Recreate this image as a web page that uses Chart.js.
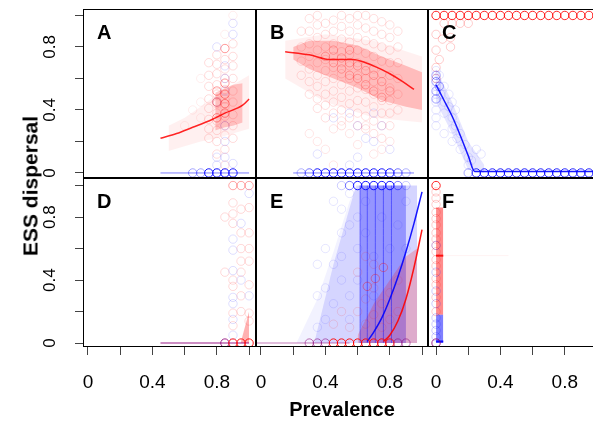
<!DOCTYPE html>
<html>
<head>
<meta charset="utf-8">
<script src="https://cdn.jsdelivr.net/npm/chart.js@4.4.1/dist/chart.umd.min.js"></script>
<style>
  body { margin: 0; background: #fff; width: 593px; height: 421px; overflow: hidden; position: relative; }
  canvas { position: absolute; }
  #ytitle { position: absolute; left: 30px; top: 186px; transform: translate(-50%, -50%) rotate(-90deg);
    font: bold 21px "Liberation Sans", Arial, sans-serif; line-height: 1; white-space: nowrap; color: #000; }
</style>
</head>
<body>
<canvas id="pA"></canvas>
<canvas id="pB"></canvas>
<canvas id="pC"></canvas>
<canvas id="pD"></canvas>
<canvas id="pE"></canvas>
<canvas id="pF"></canvas>
<div id="ytitle">ESS dispersal</div>
<script>
// axis ticks (R style: every 0.2, labels only on 0, 0.4, 0.8)
const tickVals = [0, 0.2, 0.4, 0.6, 0.8, 1];
const tickText = ['0', '', '0.4', '', '0.8', ''];

// ---- panel A ----
const aRedCols = [0.75, 0.8, 0.85, 0.9];
const aRedColY = [
  [0.22, 0.28, 0.34, 0.41, 0.47, 0.55, 0.62, 0.7],
  [0.12, 0.2, 0.27, 0.33, 0.38, 0.44, 0.5, 0.56, 0.63, 0.69, 0.75],
  [0.05, 0.15, 0.24, 0.3, 0.36, 0.42, 0.47, 0.53, 0.6, 0.66, 0.72],
  [0.22, 0.3, 0.37, 0.45, 0.52, 0.6, 0.68, 0.74, 0.82]
];
const aRedStray = [[0.7, 0.35], [0.7, 0.45], [0.65, 0.4], [0.7, 0.6], [0.6, 0.3], [0.9, 1.0], [0.85, 0.88]];
const aRedDark = [[0.85, 0.79], [0.85, 0.57], [0.85, 0.5], [0.8, 0.45], [0.85, 0.38], [0.8, 0.35], [0.85, 0.44], [0.8, 0.52]];
const aBlueFaint = [[0.9, 0.95], [0.9, 0.88], [0.8, 0.8], [0.85, 0.68], [0.85, 0.6], [0.85, 0.52], [0.85, 0.3], [0.85, 0.2], [0.8, 0.1], [0.85, 0.1], [0.8, 0.45], [0.8, 0.05], [0.9, 0.06]];
const aBlueZeroX = [0.75, 0.8, 0.85, 0.9];
const aBlueZeroFaintX = [0.65, 0.7];
const aLineX = [0.45, 0.55, 0.65, 0.75, 0.85, 0.96, 1.0];
const aLineY = [0.22, 0.25, 0.29, 0.33, 0.38, 0.43, 0.47];
const aBandX = [0.5, 0.6, 0.7, 0.8, 0.9, 1.0];
const aBandLo = [0.14, 0.17, 0.2, 0.22, 0.25, 0.28];
const aBandHi = [0.3, 0.35, 0.42, 0.5, 0.56, 0.62];
const aCoreX = [0.79, 0.85, 0.9, 0.96];
const aCoreLo = [0.27, 0.29, 0.3, 0.32];
const aCoreHi = [0.51, 0.54, 0.56, 0.57];

// ---- panel B ----
const bRedCols = [0.25, 0.3, 0.35, 0.4, 0.45, 0.5, 0.55, 0.6, 0.65, 0.7, 0.75, 0.8, 0.85];
const bRedColY = [
  [0.62, 0.71, 0.8, 0.9],
  [0.5, 0.58, 0.66, 0.74, 0.82, 0.9, 0.98],
  [0.41, 0.47, 0.55, 0.62, 0.7, 0.78, 0.86, 0.94, 1.0],
  [0.35, 0.43, 0.5, 0.58, 0.65, 0.72, 0.8, 0.88, 0.95],
  [0.38, 0.45, 0.52, 0.6, 0.67, 0.74, 0.82, 0.9, 0.97],
  [0.3, 0.4, 0.48, 0.56, 0.63, 0.7, 0.77, 0.85, 0.93, 1.0],
  [0.35, 0.44, 0.52, 0.6, 0.68, 0.75, 0.83, 0.9, 0.98],
  [0.3, 0.38, 0.46, 0.54, 0.62, 0.7, 0.78, 0.86, 0.94, 1.0],
  [0.28, 0.36, 0.45, 0.53, 0.6, 0.68, 0.76, 0.84, 0.92, 1.0],
  [0.25, 0.33, 0.42, 0.5, 0.58, 0.66, 0.74, 0.82, 0.9, 0.98],
  [0.22, 0.3, 0.38, 0.46, 0.55, 0.63, 0.71, 0.8, 0.88, 0.96],
  [0.3, 0.38, 0.46, 0.54, 0.62, 0.7, 0.78, 0.86, 0.94],
  [0.4, 0.5, 0.6, 0.7, 0.8, 0.9]
];
const bRedDense = [[0.4, 0.74], [0.45, 0.7], [0.5, 0.73], [0.5, 0.66], [0.55, 0.7], [0.55, 0.62], [0.6, 0.68], [0.6, 0.6], [0.65, 0.65], [0.65, 0.56], [0.7, 0.62], [0.7, 0.52], [0.75, 0.58], [0.75, 0.48], [0.8, 0.52], [0.45, 0.78], [0.55, 0.78]];
const bRedLow = [[0.3, 0.25], [0.35, 0.2], [0.4, 0.15], [0.45, 0.28], [0.55, 0.25], [0.6, 0.18], [0.7, 0.12], [0.75, 0.15], [0.8, 0.2], [0.45, 0.05], [0.5, 0.33], [0.65, 0.3]];
const bBlueFaint = [[0.55, 0.38], [0.6, 0.3], [0.65, 0.22], [0.7, 0.2], [0.6, 0.1], [0.55, 0.05], [0.75, 0.3], [0.8, 0.15], [0.35, 0.12], [0.7, 0.38], [0.45, 0.35]];
const bBlueZeroX = [0.35, 0.4, 0.45, 0.5, 0.55, 0.6, 0.65, 0.7, 0.75, 0.8];
const bBlueZeroMidX = [0.3, 0.85];
const bBlueZeroFaintX = [0.25, 0.9];
const bLineX = [0.15, 0.3, 0.43, 0.57, 0.65, 0.72, 0.8, 0.88, 0.95];
const bLineY = [0.77, 0.75, 0.72, 0.72, 0.7, 0.67, 0.63, 0.58, 0.53];
const bBandX = [0.2, 0.3, 0.45, 0.6, 0.75, 0.9, 1.0];
const bBandLo = [0.72, 0.66, 0.6, 0.54, 0.46, 0.42, 0.4];
const bBandHi = [0.8, 0.84, 0.84, 0.81, 0.74, 0.68, 0.64];
const bWideX = [0.15, 0.4, 0.7, 1.0];
const bWideLo = [0.6, 0.45, 0.35, 0.32];
const bWideHi = [0.84, 0.88, 0.84, 0.74];

// ---- panel C ----
const cTopX = [0, 0.05, 0.1, 0.15, 0.2, 0.25, 0.3, 0.35, 0.4, 0.45, 0.5, 0.55, 0.6, 0.65, 0.7, 0.75, 0.8, 0.85, 0.9, 0.95, 1.0];
const cRedFaint = [[0, 0.78], [0, 0.67], [0, 0.88], [0.04, 0.85], [0.09, 0.86], [0.09, 0.8], [0.05, 0.95], [0.1, 0.95], [0.15, 0.95], [0.2, 0.95], [0.02, 0.72], [0, 0.6]];
const cBlueFaint = [[0, 0.65], [0, 0.6], [0, 0.55], [0, 0.5], [0, 0.45], [0, 0.4], [0, 0.35], [0.02, 0.62], [0.03, 0.5], [0.05, 0.55], [0.05, 0.45], [0.05, 0.38], [0.08, 0.5], [0.08, 0.42], [0.1, 0.35], [0.1, 0.28], [0.1, 0.45], [0.12, 0.3], [0.13, 0.22], [0.15, 0.25], [0.15, 0.15], [0.18, 0.18], [0.2, 0.1], [0.2, 0.05], [0.22, 0.08], [0.25, 0.15], [0.28, 0.12], [0.1, 0.2], [0.12, 0.4], [0, 0.3], [0.05, 0.25]];
const cBlueDark = [[0, 0.58], [0, 0.52], [0, 0.47], [0.02, 0.55], [0, 0.62]];
const cBlueZeroX = [0.25, 0.3, 0.35, 0.4, 0.45, 0.5, 0.55, 0.6, 0.65, 0.7, 0.75, 0.8, 0.85, 0.9, 0.95, 1.0];
const cBlueZeroFaintX = [0.2];
const cLineX = [0, 0.05, 0.1, 0.15, 0.2, 0.24, 1.05];
const cLineY = [0.56, 0.46, 0.36, 0.24, 0.11, 0.01, 0.01];
const cBandX = [0, 0.1, 0.2, 0.3];
const cBandLo = [0.45, 0.25, 0.02, 0];
const cBandHi = [0.66, 0.45, 0.2, 0.05];

// ---- panel D ----
const dRedFaint = [[0.9, 0.89], [0.9, 0.82], [0.9, 0.76], [0.9, 0.4], [0.9, 0.36], [0.9, 0.19], [0.9, 0.11], [0.95, 0.52], [0.95, 0.6], [0.95, 0.3], [0.95, 0.45], [1.0, 0.86], [1.0, 0.7], [1.0, 0.52], [1.0, 0.37], [1.0, 0.19], [1.0, 0.14], [0.95, 0.7], [0.95, 0.85], [1.0, 0.6], [0.85, 0.45], [0.85, 0.8], [0.95, 0.2]];
const dBlueFaint = [[0.9, 0.66], [0.9, 0.59], [0.9, 0.46], [0.9, 0.25], [0.9, 0.29], [0.95, 0.76], [1.0, 0.95], [0.95, 0.4], [0.9, 0.05], [1.0, 0.3], [0.9, 0.15]];
const dTopX = [0.9, 0.95, 1.0];
const dZeroRedX = [0.9, 0.95, 1.0];
const dZeroPurpleX = [0.85];
const dLineX = [0.45, 1.0];
const dLineY = [0, 0];
const dBandX = [0.95, 1.0];
const dBandLo = [0, 0];
const dBandHi = [0.01, 0.2];

// ---- panel E ----
const eTopX = [0.6, 0.65, 0.7, 0.75, 0.8];
const eTopMidX = [0.55, 0.85];
const eTopFaintX = [0.5, 0.9];
const eZeroRedX = [0.45, 0.5, 0.55, 0.6, 0.65, 0.7, 0.75, 0.8];
const eZeroPurpleX = [0.3, 0.35, 0.4, 0.85, 0.9];
const eBlueFaint = [[0.45, 0.9], [0.5, 0.85], [0.55, 0.95], [0.5, 0.7], [0.55, 0.75], [0.6, 0.8], [0.6, 0.6], [0.65, 0.9], [0.45, 0.5], [0.5, 0.55], [0.4, 0.35], [0.45, 0.25], [0.5, 0.4], [0.55, 0.3], [0.4, 0.6], [0.35, 0.3], [0.35, 0.1], [0.4, 0.15], [0.55, 0.15], [0.6, 0.4], [0.65, 0.7], [0.7, 0.55], [0.75, 0.8], [0.7, 0.3], [0.8, 0.6], [0.85, 0.75], [0.9, 0.9], [0.9, 0.6], [0.35, 0.5]];
const eRedFaint = [[0.6, 0.2], [0.65, 0.28], [0.65, 0.12], [0.7, 0.35], [0.7, 0.18], [0.75, 0.25], [0.75, 0.1], [0.8, 0.32], [0.8, 0.15], [0.85, 0.2], [0.55, 0.1], [0.6, 0.45], [0.5, 0.2], [0.45, 0.12], [0.7, 0.5], [0.85, 0.4], [0.65, 0.55]];
const eRedDark = [[0.76, 0.48], [0.71, 0.41], [0.66, 0.36]];
const eColX = [0.615, 0.66, 0.71, 0.76, 0.81];
const eWideX = [0.22, 0.35, 0.45, 0.55, 0.6, 0.97];
const eWideHi = [0, 0.28, 0.58, 0.9, 1.0, 1.0];
const eMidX = [0.33, 0.45, 0.59, 0.97];
const eMidHi = [0, 0.5, 1.0, 1.0];
const eCoreX = [0.615, 0.9];
const eCoreHi = [1.0, 1.0];
const eRedBandX = [0.6, 0.7, 0.8, 0.9, 0.97];
const eRedBandHi = [0.05, 0.25, 0.4, 0.55, 0.6];
const eBlueLineX = [0.66, 0.7, 0.75, 0.8, 0.85, 0.9, 0.95, 1.0];
const eBlueLineY = [0.01, 0.07, 0.16, 0.28, 0.42, 0.58, 0.76, 0.96];
const eRedLineX = [0.76, 0.8, 0.85, 0.9, 0.95, 1.0];
const eRedLineY = [0.01, 0.05, 0.14, 0.28, 0.48, 0.72];
const eZeroLineX = [-0.03, 0.55];

// ---- panel F ----
const fRedY = [0.96, 0.92, 0.88, 0.83, 0.79, 0.75, 0.7, 0.66, 0.62, 0.58, 0.53, 0.49, 0.41, 0.37, 0.29, 0.2];
const fBlueY = [0.45, 0.33, 0.25, 0.16, 0.12, 0.08, 0.04, 0.62];
const fBandX = [0, 0.045];
const fRedBandLo = [0.18, 0.18];
const fRedBandHi = [0.86, 0.86];
const fBlueBandLo = [0, 0];
const fBlueBandHi = [0.18, 0.18];
const fRedLineY = [0.555, 0.555];
const fRedTailX = [0.045, 0.45];
const fBlueLineY = [0.01, 0.01];

// ---------- helpers ----------
const FONT = '"Liberation Sans", Arial, Helvetica, sans-serif';
const RED = '255,0,0', BLUE = '0,0,255', PURPLE = '140,0,120';

const zip = (xs, ys) => xs.map((x, i) => ({ x, y: ys[i] }));
const level = (xs, y) => xs.map(x => ({ x, y }));
const column = (x, ys) => ys.map(y => ({ x, y }));
const pairs = p => p.map(([x, y]) => ({ x, y }));
const cols = (xs, yss) => xs.flatMap((x, i) => column(x, yss[i]));

function rings(data, rgb, a) {
  return {
    data, showLine: false, pointRadius: 4.2, pointHoverRadius: 4.2, pointBorderWidth: 1,
    pointBackgroundColor: 'rgba(0,0,0,0)', pointBorderColor: `rgba(${rgb},${a})`
  };
}
function curve(data, rgb, a, w) {
  return {
    data, showLine: true, pointRadius: 0, borderColor: `rgba(${rgb},${a})`, borderWidth: w,
    fill: false, cubicInterpolationMode: 'monotone'
  };
}
function band(xs, lo, hi, rgb, a) {
  return [
    { data: zip(xs, lo), showLine: true, pointRadius: 0, borderWidth: 0, borderColor: 'rgba(0,0,0,0)', fill: false },
    { data: zip(xs, hi), showLine: true, pointRadius: 0, borderWidth: 0, borderColor: 'rgba(0,0,0,0)', fill: '-1', backgroundColor: `rgba(${rgb},${a})` }
  ];
}

const panelDeco = {
  id: 'panelDeco',
  afterDraw(chart, args, o) {
    const { ctx, chartArea: a } = chart;
    ctx.save();
    ctx.strokeStyle = '#000';
    ctx.lineWidth = 1;
    ctx.strokeRect(Math.round(a.left) + 0.5, Math.round(a.top) + 0.5, Math.round(a.right - a.left) - 1, Math.round(a.bottom - a.top) - 1);
    ctx.fillStyle = '#000';
    ctx.font = 'bold 20px ' + FONT;
    ctx.textAlign = 'left';
    ctx.textBaseline = 'alphabetic';
    ctx.fillText(o.letter, a.left + 14, a.top + 30);
    if (o.yLabels) {
      const ys = chart.scales.y;
      ctx.font = '17px ' + FONT;
      ctx.textAlign = 'center';
      tickVals.forEach((v, i) => {
        if (!tickText[i]) return;
        ctx.save();
        ctx.translate(55, ys.getPixelForValue(v));
        ctx.rotate(-Math.PI / 2);
        ctx.fillText(tickText[i], 0, 0);
        ctx.restore();
      });
    }
    if (o.xTitle) {
      ctx.font = 'bold 20px ' + FONT;
      ctx.textAlign = 'center';
      ctx.fillText(o.xTitle, (a.left + a.right) / 2, chart.height - 5);
    }
    ctx.restore();
  }
};

function axis(dir, range, show, size) {
  return {
    type: 'linear', min: range[0], max: range[1], display: show,
    afterBuildTicks: s => { s.ticks = tickVals.map(v => ({ value: v })); },
    afterFit: s => {
      if (dir === 'x') s.height = size; else s.width = size;
      s.paddingLeft = s.paddingRight = s.paddingTop = s.paddingBottom = 0;
    },
    ticks: {
      autoSkip: false, maxRotation: 0, minRotation: 0, color: '#000',
      padding: dir === 'x' ? 16 : 0,
      font: { family: FONT, size: dir === 'x' ? 19 : 1 },
      callback: (v, i) => dir === 'x' ? tickText[i] : ''
    },
    grid: { drawOnChartArea: false, drawTicks: true, tickLength: 8, color: '#444', lineWidth: 1 },
    border: { display: false }
  };
}

// canvas placement of each panel column / row and the value ranges they show
const colBox = [
  { left: 0, width: 256, axis: 83, x: [-0.031, 1.043] },
  { left: 256, width: 172, axis: 0, x: [-0.031, 1.037] },
  { left: 428, width: 182, axis: 0, x: [-0.05, 1.081] }
];
const rowBox = [
  { top: 0, height: 178, pad: 9, axis: 0, y: [-0.032, 1.041] },
  { top: 178, height: 243, pad: 0, axis: 74, y: [-0.025, 1.048] }
];

function panel(id, col, row, letter, datasets, extra) {
  const c = colBox[col], r = rowBox[row];
  const el = document.getElementById(id);
  el.width = c.width; el.height = r.height;
  el.style.left = c.left + 'px'; el.style.top = r.top + 'px';
  const n = datasets.length;
  datasets.forEach((d, i) => { d.order = n - i; });
  new Chart(el, {
    type: 'line',
    data: { datasets },
    options: {
      responsive: false, animation: false, events: [],
      layout: { autoPadding: false, padding: { left: 0, right: 0, top: r.pad, bottom: 0 } },
      plugins: { legend: { display: false }, tooltip: { enabled: false },
        panelDeco: Object.assign({ letter, yLabels: c.axis > 0 }, extra || {}) },
      scales: { x: axis('x', c.x, r.axis > 0, r.axis), y: axis('y', r.y, c.axis > 0, c.axis) }
    },
    plugins: [panelDeco]
  });
}

// ---------- panels ----------
panel('pA', 0, 0, 'A', [
  ...band(aBandX, aBandLo, aBandHi, RED, 0.06),
  ...band(aCoreX, aCoreLo, aCoreHi, RED, 0.2),
  rings(cols(aRedCols, aRedColY), RED, 0.14),
  rings(pairs(aRedStray), RED, 0.07),
  rings(pairs(aBlueFaint), BLUE, 0.13),
  rings(pairs(aRedDark), RED, 0.4),
  curve(level([0.45, 1.0], 0), BLUE, 0.5, 1),
  curve(zip(aLineX, aLineY), RED, 0.85, 1.5),
  rings(level(aBlueZeroFaintX, 0), BLUE, 0.35),
  rings(level(aBlueZeroX, 0), BLUE, 0.9)
]);

panel('pB', 1, 0, 'B', [
  ...band(bWideX, bWideLo, bWideHi, RED, 0.06),
  ...band(bBandX, bBandLo, bBandHi, RED, 0.22),
  rings(cols(bRedCols, bRedColY), RED, 0.13),
  rings(pairs(bRedDense), RED, 0.25),
  rings(pairs(bRedLow), RED, 0.1),
  rings(pairs(bBlueFaint), BLUE, 0.12),
  curve(level([0.2, 0.95], 0), BLUE, 0.5, 1),
  curve(zip(bLineX, bLineY), RED, 0.85, 1.5),
  rings(level(bBlueZeroFaintX, 0), BLUE, 0.3),
  rings(level(bBlueZeroMidX, 0), BLUE, 0.55),
  rings(level(bBlueZeroX, 0), BLUE, 0.9)
]);

panel('pC', 2, 0, 'C', [
  ...band(cBandX, cBandLo, cBandHi, BLUE, 0.1),
  rings(pairs(cBlueFaint), BLUE, 0.1),
  rings(pairs(cRedFaint), RED, 0.2),
  rings(pairs(cBlueDark), BLUE, 0.35),
  curve(zip(cLineX, cLineY), BLUE, 0.9, 1.5),
  rings(level(cTopX, 1.0), RED, 0.85),
  rings(level(cBlueZeroFaintX, 0), BLUE, 0.35),
  rings(level(cBlueZeroX, 0), BLUE, 0.85)
]);

panel('pD', 0, 1, 'D', [
  ...band(dBandX, dBandLo, dBandHi, RED, 0.3),
  rings(pairs(dRedFaint), RED, 0.15),
  rings(pairs(dBlueFaint), BLUE, 0.13),
  rings(level(dTopX, 1.0), RED, 0.35),
  curve(zip(dLineX, dLineY), PURPLE, 0.6, 1.5),
  rings(level(dZeroPurpleX, 0), PURPLE, 0.85),
  rings(level(dZeroRedX, 0), RED, 0.9)
]);

panel('pE', 1, 1, 'E', [
  ...band(eWideX, eWideX.map(() => 0), eWideHi, BLUE, 0.05),
  ...band(eMidX, eMidX.map(() => 0), eMidHi, BLUE, 0.12),
  ...band(eCoreX, eCoreX.map(() => 0), eCoreHi, BLUE, 0.3),
  ...band(eRedBandX, eRedBandX.map(() => 0), eRedBandHi, RED, 0.2),
  ...eColX.map(x => curve(column(x, [0, 1]), BLUE, 0.45, 1)),
  rings(pairs(eBlueFaint), BLUE, 0.1),
  rings(pairs(eRedFaint), RED, 0.12),
  rings(pairs(eRedDark), RED, 0.35),
  curve(level(eZeroLineX, 0), PURPLE, 0.35, 1.5),
  curve(zip(eBlueLineX, eBlueLineY), BLUE, 0.9, 1.5),
  curve(zip(eRedLineX, eRedLineY), RED, 0.9, 1.5),
  rings(level(eTopFaintX, 1.0), BLUE, 0.2),
  rings(level(eTopMidX, 1.0), BLUE, 0.5),
  rings(level(eTopX, 1.0), BLUE, 0.9),
  rings(level(eZeroPurpleX, 0), PURPLE, 0.55),
  rings(level(eZeroRedX, 0), RED, 0.9)
], { xTitle: 'Prevalence' });

panel('pF', 2, 1, 'F', [
  ...band(fBandX, fRedBandLo, fRedBandHi, RED, 0.45),
  ...band(fBandX, fBlueBandLo, fBlueBandHi, BLUE, 0.5),
  rings(column(0, fRedY), RED, 0.2),
  rings(column(0, fBlueY), BLUE, 0.2),
  curve(zip(fRedTailX, fRedLineY), RED, 0.05, 1),
  curve(zip(fBandX, fRedLineY), RED, 0.9, 2),
  curve(zip(fBandX, fBlueLineY), BLUE, 0.9, 2),
  rings(column(0, [1.0]), RED, 0.85),
  rings(column(0, [0]), PURPLE, 0.85)
]);
</script>
</body>
</html>
